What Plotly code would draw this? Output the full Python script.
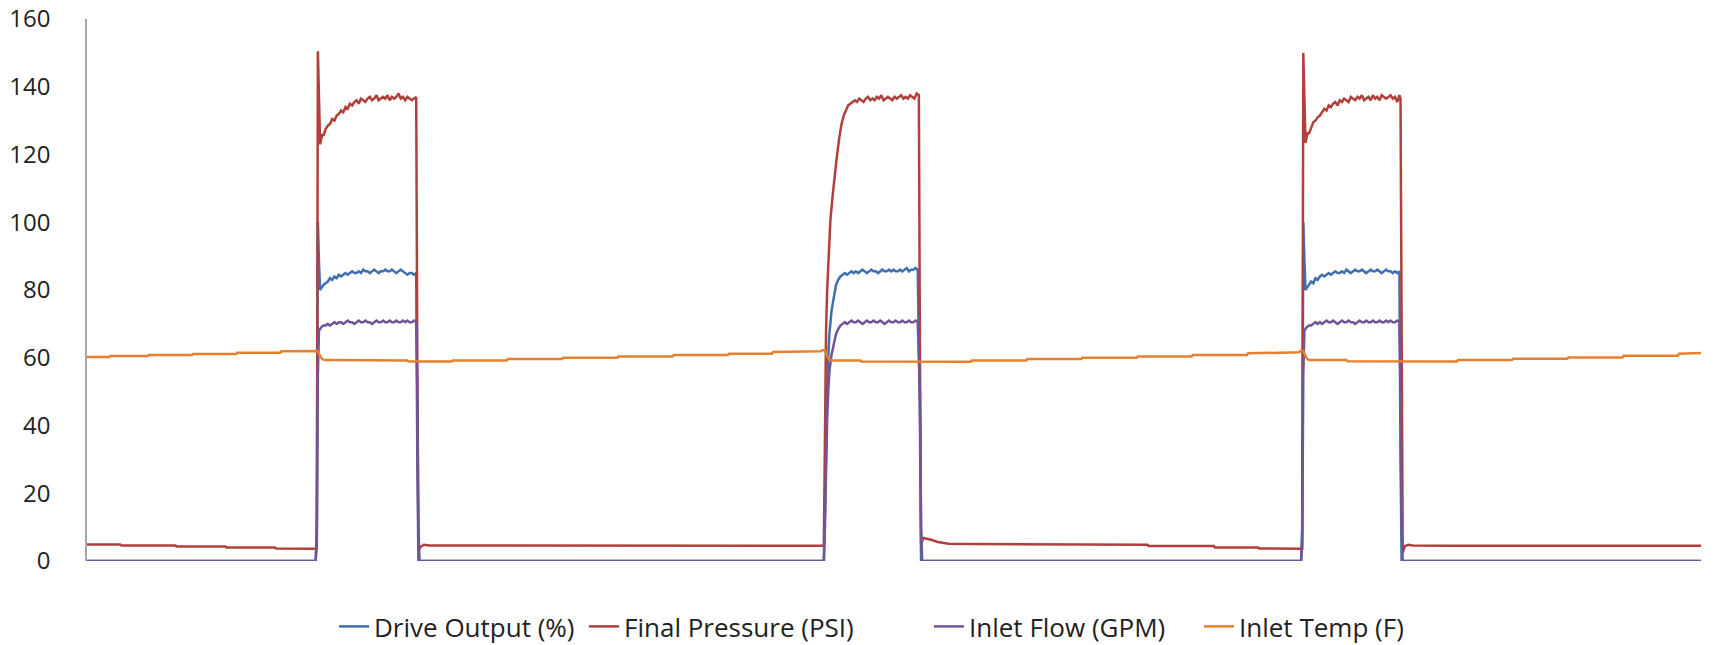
import plotly.graph_objects as go

# ---------------- data: time index and values ----------------
# Final Pressure (PSI)
press_t_base1 = [0, 30, 31, 80, 81, 125, 126, 170, 171, 207]
press_v_base1 = [4.9, 4.9, 4.6, 4.6, 4.3, 4.3, 4.0, 4.0, 3.7, 3.7]
press_t_cyc1 = [208, 209, 210, 211, 212, 213, 214, 216, 218, 220, 222, 224, 226, 228, 230, 232, 234, 236, 238,
                240, 242, 244, 246, 248, 250, 252, 254, 256, 258, 260, 262, 264, 266, 268, 270, 272, 274, 276,
                278, 280, 282, 284, 286, 288, 290, 292, 294, 296, 298]
press_v_cyc1 = [3.6, 150.5, 136, 123, 124.5, 126, 125.5, 127.5, 128.5, 129, 130.5, 130, 131.5, 132, 133, 132.5, 134,
                133.5, 135, 134.5, 135.5, 136, 135, 136.5, 136, 135.5, 136.5, 137, 136, 136.5, 137.5, 136, 136.5,
                137, 136.5, 137.5, 136, 137, 136.5, 137, 138, 136.5, 137, 136, 137, 136.5, 136, 136.5, 137]
press_t_base2 = [299, 300, 302, 305, 310, 330, 331, 400, 500, 600, 666]
press_v_base2 = [60, 3.0, 4.2, 4.8, 4.6, 4.6, 4.5, 4.5, 4.5, 4.5, 4.5]
press_t_cyc2 = [667, 668, 669, 670, 671, 672, 673, 675, 677, 679, 681, 683, 685, 687, 689, 691, 693, 695, 697,
                699, 701, 703, 705, 707, 709, 711, 713, 715, 717, 719, 721, 723, 725, 727, 729, 731, 733, 735,
                737, 739, 741, 743, 745, 747, 749, 751, 753]
press_v_cyc2 = [5, 40, 68, 80, 88, 95, 101, 108, 115, 120, 125, 129, 131.5, 133, 134.5, 135, 135.5, 136, 135.5,
                136.5, 136, 135.5, 136.5, 137, 136, 136.5, 136, 137, 136.5, 137.5, 136, 136.5, 137, 136.5, 136,
                137, 136.5, 137, 137.5, 136.5, 137, 136.5, 137.5, 137, 136.5, 138, 137.5]
press_t_base3 = [754, 755, 757, 760, 765, 770, 780, 800, 880, 881, 960, 961, 1020, 1021, 1060, 1061, 1099]
press_v_base3 = [60, 5, 6.8, 6.6, 6.2, 5.6, 5.1, 5.0, 5.0, 4.8, 4.8, 4.4, 4.4, 4.0, 4.0, 3.7, 3.6]
press_t_cyc3 = [1100, 1101, 1102, 1103, 1104, 1105, 1106, 1108, 1110, 1112, 1114, 1116, 1118, 1120, 1122, 1124,
                1126, 1128, 1130, 1132, 1134, 1136, 1138, 1140, 1142, 1144, 1146, 1148, 1150, 1152, 1154, 1156,
                1158, 1160, 1162, 1164, 1166, 1168, 1170, 1172, 1174, 1176, 1178, 1180, 1182, 1184, 1186, 1188, 1189]
press_v_cyc3 = [3.6, 150, 135, 123.5, 125, 126.5, 126, 128, 129.5, 130, 131, 131.5, 132.5, 133.5, 133, 134.5,
                134, 135, 135.5, 134.5, 136, 135.5, 136.5, 136, 135.5, 137, 136.5, 136, 137, 136.5, 137.5, 136,
                136.5, 137, 136, 137.5, 136.5, 137, 136, 137.5, 137, 136.5, 137, 137.5, 136.5, 137, 135.5, 137.5, 136.5]
press_t_base4 = [1190, 1191, 1193, 1196, 1200, 1230, 1300, 1400, 1461]
press_v_base4 = [60, 2.5, 4.4, 4.8, 4.6, 4.5, 4.5, 4.5, 4.5]

# Drive Output (%)
drive_t_cyc1 = [0, 207, 208, 209, 210, 211, 212, 214, 216, 218, 220, 222, 224, 226, 228, 230, 232, 234, 236, 238,
                240, 242, 244, 246, 248, 250, 252, 254, 256, 258, 260, 262, 264, 266, 268, 270, 272, 274, 276,
                278, 280, 282, 284, 286, 288, 290, 292, 294, 296, 298, 299, 300]
drive_v_cyc1 = [0, 0, 10, 100, 88, 80, 80.5, 81.5, 82, 82.5, 83.5, 83, 84, 83.5, 84.5, 84, 84.5, 85, 84.5, 85,
                85.5, 85, 85, 85.5, 85, 86, 85.5, 85.5, 85, 85.5, 86, 85.5, 85, 85.5, 85.5, 86, 85.5, 85.5, 86,
                85.5, 85, 85.5, 86, 85.5, 85, 84.5, 85, 85, 84.5, 85, 30, 0]
drive_t_cyc2 = [666, 667, 668, 669, 670, 671, 672, 674, 676, 678, 680, 682, 684, 686, 688, 690, 692, 694, 696,
                698, 700, 702, 704, 706, 708, 710, 712, 714, 716, 718, 720, 722, 724, 726, 728, 730, 732, 734,
                736, 738, 740, 742, 744, 746, 748, 750, 752, 754, 755]
drive_v_cyc2 = [0, 0, 15, 35, 50, 60, 67, 74, 78.5, 81.5, 83, 84, 84.5, 85, 84.5, 85, 85.5, 85, 85.5, 85, 85.5,
                86, 85.5, 85, 85.5, 86, 85.5, 85.5, 85, 85.5, 86, 85.5, 85.5, 86, 85.5, 86, 85.5, 85.5, 86, 85.5,
                86, 86.5, 85.5, 86, 86, 86.5, 86, 40, 0]
drive_t_cyc3 = [1099, 1100, 1101, 1102, 1103, 1104, 1106, 1108, 1110, 1112, 1114, 1116, 1118, 1120, 1122, 1124,
                1126, 1128, 1130, 1132, 1134, 1136, 1138, 1140, 1142, 1144, 1146, 1148, 1150, 1152, 1154, 1156,
                1158, 1160, 1162, 1164, 1166, 1168, 1170, 1172, 1174, 1176, 1178, 1180, 1182, 1184, 1186, 1188,
                1189, 1190, 1461]
drive_v_cyc3 = [0, 10, 100, 89, 80, 80.5, 81.5, 82.5, 82, 83.5, 83, 84, 84.5, 84, 84.5, 85, 84.5, 85, 85.5, 85,
                85, 85.5, 85, 86, 85.5, 85, 85.5, 86, 85.5, 85.5, 86, 85.5, 85, 85.5, 86, 85.5, 85.5, 86, 85.5,
                85, 85.5, 86, 85.5, 85.5, 85, 85.5, 85, 85.5, 30, 0, 0]

# Inlet Flow (GPM)
flow_t_cyc1 = [0, 207, 208, 209, 210, 211, 212, 214, 216, 218, 220, 222, 224, 226, 228, 230, 232, 234, 236, 238,
               240, 242, 244, 246, 248, 250, 252, 254, 256, 258, 260, 262, 264, 266, 268, 270, 272, 274, 276,
               278, 280, 282, 284, 286, 288, 290, 292, 294, 296, 298, 299, 300, 301]
flow_v_cyc1 = [0, 0, 5, 55, 68, 68.5, 69, 69.5, 69.5, 70, 69.5, 70, 70.5, 70, 70.5, 70.5, 70, 70.5, 71, 70.5,
               70.5, 70, 70.5, 71, 70.5, 70.5, 71, 70.5, 70.5, 70, 70.5, 71, 70.5, 70.5, 71, 70.5, 70.5, 71,
               70.5, 70.5, 71, 70.5, 70.5, 71, 70.5, 71, 70.5, 70.5, 71, 70.5, 50, 10, 0]
flow_t_cyc2 = [666, 667, 668, 669, 670, 671, 672, 674, 676, 678, 680, 682, 684, 686, 688, 690, 692, 694, 696,
               698, 700, 702, 704, 706, 708, 710, 712, 714, 716, 718, 720, 722, 724, 726, 728, 730, 732, 734,
               736, 738, 740, 742, 744, 746, 748, 750, 752, 754, 755, 756]
flow_v_cyc2 = [0, 0, 10, 30, 42, 50, 56, 61, 64.5, 67, 68.5, 69.5, 70, 70.5, 70, 70.5, 71, 70.5, 70.5, 71, 70.5,
               70, 70.5, 71, 70.5, 70.5, 71, 70.5, 70.5, 71, 70.5, 70, 70.5, 71, 70.5, 70.5, 71, 70.5, 70.5,
               71, 70.5, 70.5, 71, 70.5, 70.5, 71, 70.5, 50, 10, 0]
flow_t_cyc3 = [1099, 1100, 1101, 1102, 1103, 1104, 1106, 1108, 1110, 1112, 1114, 1116, 1118, 1120, 1122, 1124,
               1126, 1128, 1130, 1132, 1134, 1136, 1138, 1140, 1142, 1144, 1146, 1148, 1150, 1152, 1154, 1156,
               1158, 1160, 1162, 1164, 1166, 1168, 1170, 1172, 1174, 1176, 1178, 1180, 1182, 1184, 1186, 1188,
               1189, 1190, 1191, 1461]
flow_v_cyc3 = [0, 5, 55, 68, 68.5, 69, 69.5, 69.5, 70, 70.5, 70, 70.5, 70, 70.5, 71, 70.5, 70.5, 71, 70.5, 70,
               70.5, 71, 70.5, 70.5, 71, 70.5, 70.5, 70, 70.5, 71, 70.5, 70.5, 71, 70.5, 70.5, 71, 70.5, 70.5,
               71, 70.5, 70.5, 71, 70.5, 71, 70.5, 70.5, 71, 70.5, 50, 10, 0, 0]

# Inlet Temp (F)
temp_t = [0, 20, 21, 55, 56, 95, 96, 135, 136, 175, 176, 205, 207, 209, 211, 213, 215, 240, 241, 290,
          291, 330, 331, 380, 381, 430, 431, 480, 481, 530, 531, 580, 581, 620, 621, 664, 666, 668, 670, 672,
          674, 700, 701, 754, 755, 800, 801, 850, 851, 900, 901, 950, 951, 1000, 1001, 1050, 1051, 1097, 1099, 1101,
          1103, 1105, 1107, 1140, 1141, 1189, 1190, 1240, 1241, 1290, 1291, 1340, 1341, 1390, 1391, 1440, 1441, 1461]
temp_v = [60.2, 60.2, 60.5, 60.5, 60.8, 60.8, 61.1, 61.1, 61.5, 61.5, 61.9, 61.9, 62.1, 62.0, 60.5, 59.6, 59.3, 59.3, 59.2, 59.2,
          58.9, 58.9, 59.2, 59.2, 59.6, 59.6, 60.0, 60.0, 60.4, 60.4, 60.8, 60.8, 61.2, 61.2, 61.7, 61.9, 62.3, 62.2, 60.5, 59.5,
          59.2, 59.2, 58.9, 58.9, 58.8, 58.8, 59.2, 59.2, 59.6, 59.6, 60.0, 60.0, 60.4, 60.4, 60.8, 60.8, 61.3, 61.6, 62.1, 62.0,
          60.5, 59.5, 59.3, 59.3, 59.0, 59.0, 58.9, 58.9, 59.3, 59.3, 59.7, 59.7, 60.1, 60.1, 60.6, 60.6, 61.2, 61.4]

t_press = press_t_base1 + press_t_cyc1 + press_t_base2 + press_t_cyc2 + press_t_base3 + press_t_cyc3 + press_t_base4
press = press_v_base1 + press_v_cyc1 + press_v_base2 + press_v_cyc2 + press_v_base3 + press_v_cyc3 + press_v_base4
t_drive = drive_t_cyc1 + drive_t_cyc2 + drive_t_cyc3
drive = drive_v_cyc1 + drive_v_cyc2 + drive_v_cyc3
t_flow = flow_t_cyc1 + flow_t_cyc2 + flow_t_cyc3
flow = flow_v_cyc1 + flow_v_cyc2 + flow_v_cyc3

for a, b in [(press_t_base1, press_v_base1), (press_t_cyc1, press_v_cyc1), (press_t_base2, press_v_base2),
             (press_t_cyc2, press_v_cyc2), (press_t_base3, press_v_base3), (press_t_cyc3, press_v_cyc3),
             (press_t_base4, press_v_base4), (drive_t_cyc1, drive_v_cyc1), (drive_t_cyc2, drive_v_cyc2),
             (drive_t_cyc3, drive_v_cyc3), (flow_t_cyc1, flow_v_cyc1), (flow_t_cyc2, flow_v_cyc2),
             (flow_t_cyc3, flow_v_cyc3), (temp_t, temp_v)]:
    assert len(a) == len(b), (len(a), len(b), a[0])

series_names = ["Drive Output (%)", "Final Pressure (PSI)", "Inlet Flow (GPM)", "Inlet Temp (F)"]
colors = ["#3E6FB0", "#B0403C", "#6F5597", "#E5812E"]
y_ticks = [0, 20, 40, 60, 80, 100, 120, 140, 160]

W, H = 1731, 645
ML, MR, MT, MB = 87, 30, 19, 84
PW, PH = W - ML - MR, H - MT - MB
legend_x_px = [334, 584, 929, 1199]   # left edge of each legend entry (page pixels)
legend_y_px = 603                     # top edge of the legend row (page pixels)
legend_ids = ["legend", "legend2", "legend3", "legend4"]

fig = go.Figure()
for name, xs, ys, c, lg in zip(series_names, [t_drive, t_press, t_flow, temp_t],
                               [drive, press, flow, temp_v], colors, legend_ids):
    fig.add_trace(go.Scatter(x=xs, y=ys, mode="lines", name=name, legend=lg,
                             line=dict(color=c, width=2.5)))

legend_common = dict(orientation="h", xref="paper", yref="paper", xanchor="left",
                     yanchor="top", y=-(legend_y_px - (H - MB)) / PH,
                     font=dict(family="Open Sans", size=26, color="#222222"),
                     bgcolor="rgba(0,0,0,0)", borderwidth=0)
layout_legends = {}
for lg, px in zip(legend_ids, legend_x_px):
    layout_legends[lg] = dict(legend_common, x=(px - ML) / PW)

fig.update_layout(
    width=W, height=H,
    margin=dict(l=ML, r=MR, t=MT, b=MB, autoexpand=False),
    paper_bgcolor="white", plot_bgcolor="white",
    font=dict(family="Open Sans", size=24, color="#222222"),
    showlegend=True,
    **layout_legends,
)
fig.update_xaxes(range=[0, 1461], showline=False, showgrid=False, zeroline=False,
                 showticklabels=False, ticks="")
fig.update_yaxes(range=[0, 160], tickvals=y_ticks, showline=True, linecolor="#A6A6A6", linewidth=1.5,
                 showgrid=False, zeroline=False, ticks="", ticklabelstandoff=30)

fig.write_html("out.html", config={"displayModeBar": False},
               post_script="document.body.style.margin='0';document.body.style.overflow='hidden';")
